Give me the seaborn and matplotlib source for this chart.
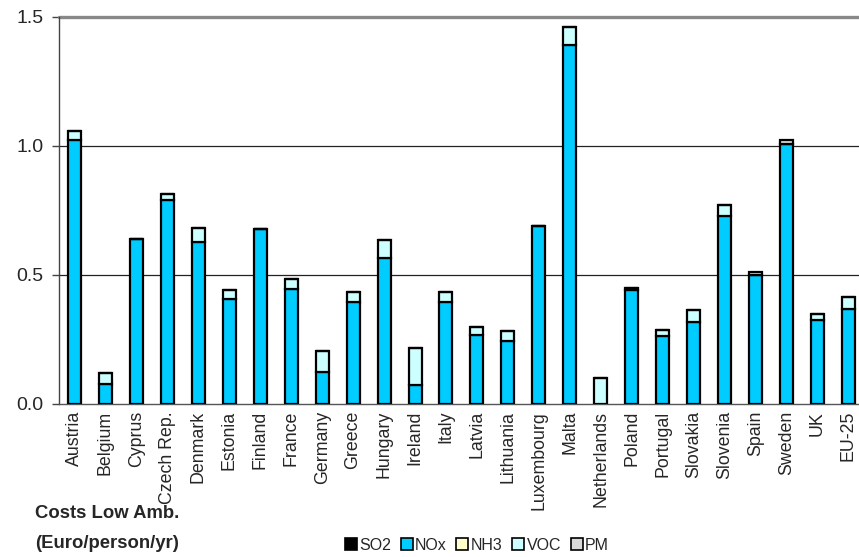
import matplotlib
matplotlib.use("Agg")
import matplotlib.pyplot as plt
from matplotlib.patches import Patch
import numpy as np
import pandas as pd
import seaborn as sns

countries = ["Austria", "Belgium", "Cyprus", "Czech Rep.", "Denmark", "Estonia",
             "Finland", "France", "Germany", "Greece", "Hungary", "Ireland",
             "Italy", "Latvia", "Lithuania", "Luxembourg", "Malta", "Netherlands",
             "Poland", "Portugal", "Slovakia", "Slovenia", "Spain", "Sweden",
             "UK", "EU-25"]

so2 = [0.0] * 26
nox = [1.025, 0.078, 0.641, 0.789, 0.627, 0.406, 0.680, 0.444, 0.123, 0.394,
       0.565, 0.075, 0.395, 0.266, 0.243, 0.691, 1.390, 0.0, 0.440, 0.265,
       0.318, 0.729, 0.499, 1.006, 0.326, 0.367]
nh3 = [0.0] * 26
voc = [0.035, 0.041, 0.0, 0.024, 0.055, 0.037, 0.0, 0.040, 0.084, 0.040,
       0.071, 0.142, 0.038, 0.032, 0.041, 0.0, 0.072, 0.100, 0.008, 0.022,
       0.045, 0.042, 0.0, 0.0, 0.022, 0.048]
pm = [0.0] * 26
pm[22] = 0.014
pm[23] = 0.016

sns.set_theme(style="white")
plt.rcParams["font.family"] = ["Liberation Sans", "DejaVu Sans"]

components = ["SO2", "NOx", "NH3", "VOC", "PM"]
colors = {"SO2": "#000000", "NOx": "#00CCFF", "NH3": "#FFFFCC",
          "VOC": "#CCFFFF", "PM": "#D9D9D9"}
df = pd.DataFrame({"country": countries, "SO2": so2, "NOx": nox,
                   "NH3": nh3, "VOC": voc, "PM": pm})

fig = plt.figure(figsize=(8.59, 5.57), dpi=100)
ax = fig.add_axes([0.0687, 0.2747, 0.937, 0.6948])

# stack the pollutant components country by country
bottom = np.zeros(len(df))
for comp in components:
    vals = df[comp].to_numpy()
    if (vals > 0).any():
        sns.barplot(x=df["country"], y=vals, bottom=bottom, color=colors[comp],
                    width=0.42, edgecolor="black", linewidth=1.6,
                    saturation=1, order=countries, ax=ax, zorder=3)
    bottom = bottom + vals

ax.set_ylim(0, 1.5)
ax.set_xlim(-0.5, len(countries) - 0.5)
ax.set_yticks([0.0, 0.5, 1.0, 1.5])
ax.set_yticklabels(["0.0", "0.5", "1.0", "1.5"], fontsize=14)
ax.set_xticks(range(len(countries)))
ax.set_xticklabels(countries, rotation=90, fontsize=12.8)
ax.set_xlabel("")
ax.set_ylabel("")

for yv in (0.5, 1.0):
    ax.axhline(yv, color="#222222", lw=0.9, zorder=1)
ax.axhline(1.5, color="#888888", lw=2.4, zorder=1, clip_on=False)

for side in ("top", "right"):
    ax.spines[side].set_visible(False)
ax.spines["left"].set_color("#444444")
ax.spines["left"].set_linewidth(1.0)
ax.spines["bottom"].set_color("#555555")
ax.spines["bottom"].set_linewidth(1.0)
ax.tick_params(axis="y", which="major", direction="out", length=5, width=1,
               color="#444444", pad=6, left=True)
ax.tick_params(axis="x", length=0, pad=5)

narrow = ["Liberation Sans Narrow", "Liberation Sans", "DejaVu Sans"]
fig.text(35 / 859, 1 - 513 / 557, "Costs Low Amb.", fontsize=13.3,
         fontweight="bold", family=narrow, va="center", ha="left")
fig.text(35 / 859, 1 - 543 / 557, "(Euro/person/yr)", fontsize=13.3,
         fontweight="bold", family=narrow, va="center", ha="left")

handles = [Patch(facecolor=colors[c], edgecolor="black", linewidth=1.2, label=c)
           for c in components]
fig.legend(handles=handles, loc="center", bbox_to_anchor=(477 / 859, 1 - 545 / 557),
           ncol=5, frameon=False, handlelength=0.75, handleheight=0.75,
           handletextpad=0.15, columnspacing=0.6,
           prop={"family": narrow, "size": 11.5})

fig.savefig("out.png", dpi=100)
